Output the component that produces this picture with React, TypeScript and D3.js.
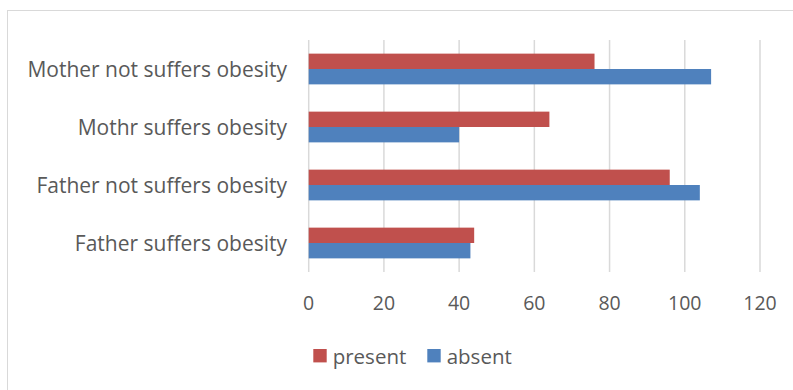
import React from "react";
import * as d3 from "d3";

const categories = [
  "Mother not suffers obesity",
  "Mothr suffers obesity",
  "Father not suffers obesity",
  "Father suffers obesity",
];
const presentValues = [76, 64, 96, 44];
const absentValues = [107, 40, 104, 43];
const seriesNames = ["present", "absent"];
const seriesColors = ["#C0504D", "#4F81BD"];
const xTicks = [0, 20, 40, 60, 80, 100, 120];

const W = 793;
const H = 390;
const plotLeft = 308.7;
const plotRight = 760;
const plotTop = 40;
const plotBottom = 272;
const FONT = "'Open Sans', Lato, sans-serif";
const TEXT = "#595959";

export default function App() {
  const x = d3.scaleLinear().domain([0, 120]).range([plotLeft, plotRight]);
  const y = d3
    .scaleBand<string>()
    .domain(categories)
    .range([plotTop, plotBottom])
    .paddingInner(0.47)
    .paddingOuter(0.235);
  const inner = d3
    .scaleBand<string>()
    .domain(seriesNames)
    .range([0, y.bandwidth()]);
  const series = [presentValues, absentValues];

  return (
    <svg
      width={W}
      height={H}
      style={{ position: "absolute", left: 0, top: 0, background: "#fff" }}
      fontFamily={FONT}
    >
      <rect x={7.5} y={10.5} width={W} height={H} fill="#fff" stroke="#D9D9D9" strokeWidth={1} />
      {xTicks.map((t) => (
        <line
          key={t}
          x1={x(t)}
          x2={x(t)}
          y1={plotTop}
          y2={plotBottom}
          stroke="#D9D9D9"
          strokeWidth={1.5}
        />
      ))}
      {categories.map((c, ci) =>
        series.map((vals, si) => (
          <rect
            key={c + si}
            x={x(0)}
            y={(y(c) as number) + (inner(seriesNames[si]) as number)}
            width={x(vals[ci]) - x(0)}
            height={inner.bandwidth()}
            fill={seriesColors[si]}
          />
        ))
      )}
      {categories.map((c) => (
        <text
          key={c}
          x={287}
          y={(y(c) as number) + y.bandwidth() / 2}
          textAnchor="end"
          dominantBaseline="central"
          fontSize={21}
          fill={TEXT}
        >
          {c}
        </text>
      ))}
      {xTicks.map((t) => (
        <text
          key={t}
          x={x(t)}
          y={302}
          textAnchor="middle"
          dominantBaseline="central"
          fontSize={19.5}
          fill={TEXT}
        >
          {t}
        </text>
      ))}
      {seriesNames.map((s, i) => {
        const lx = [313.3, 427.3][i];
        return (
          <g key={s}>
            <rect x={lx} y={349} width={13.4} height={13.4} fill={seriesColors[i]} />
            <text x={lx + 19.4} y={356} dominantBaseline="central" fontSize={20.5} fill={TEXT}>
              {s}
            </text>
          </g>
        );
      })}
    </svg>
  );
}
